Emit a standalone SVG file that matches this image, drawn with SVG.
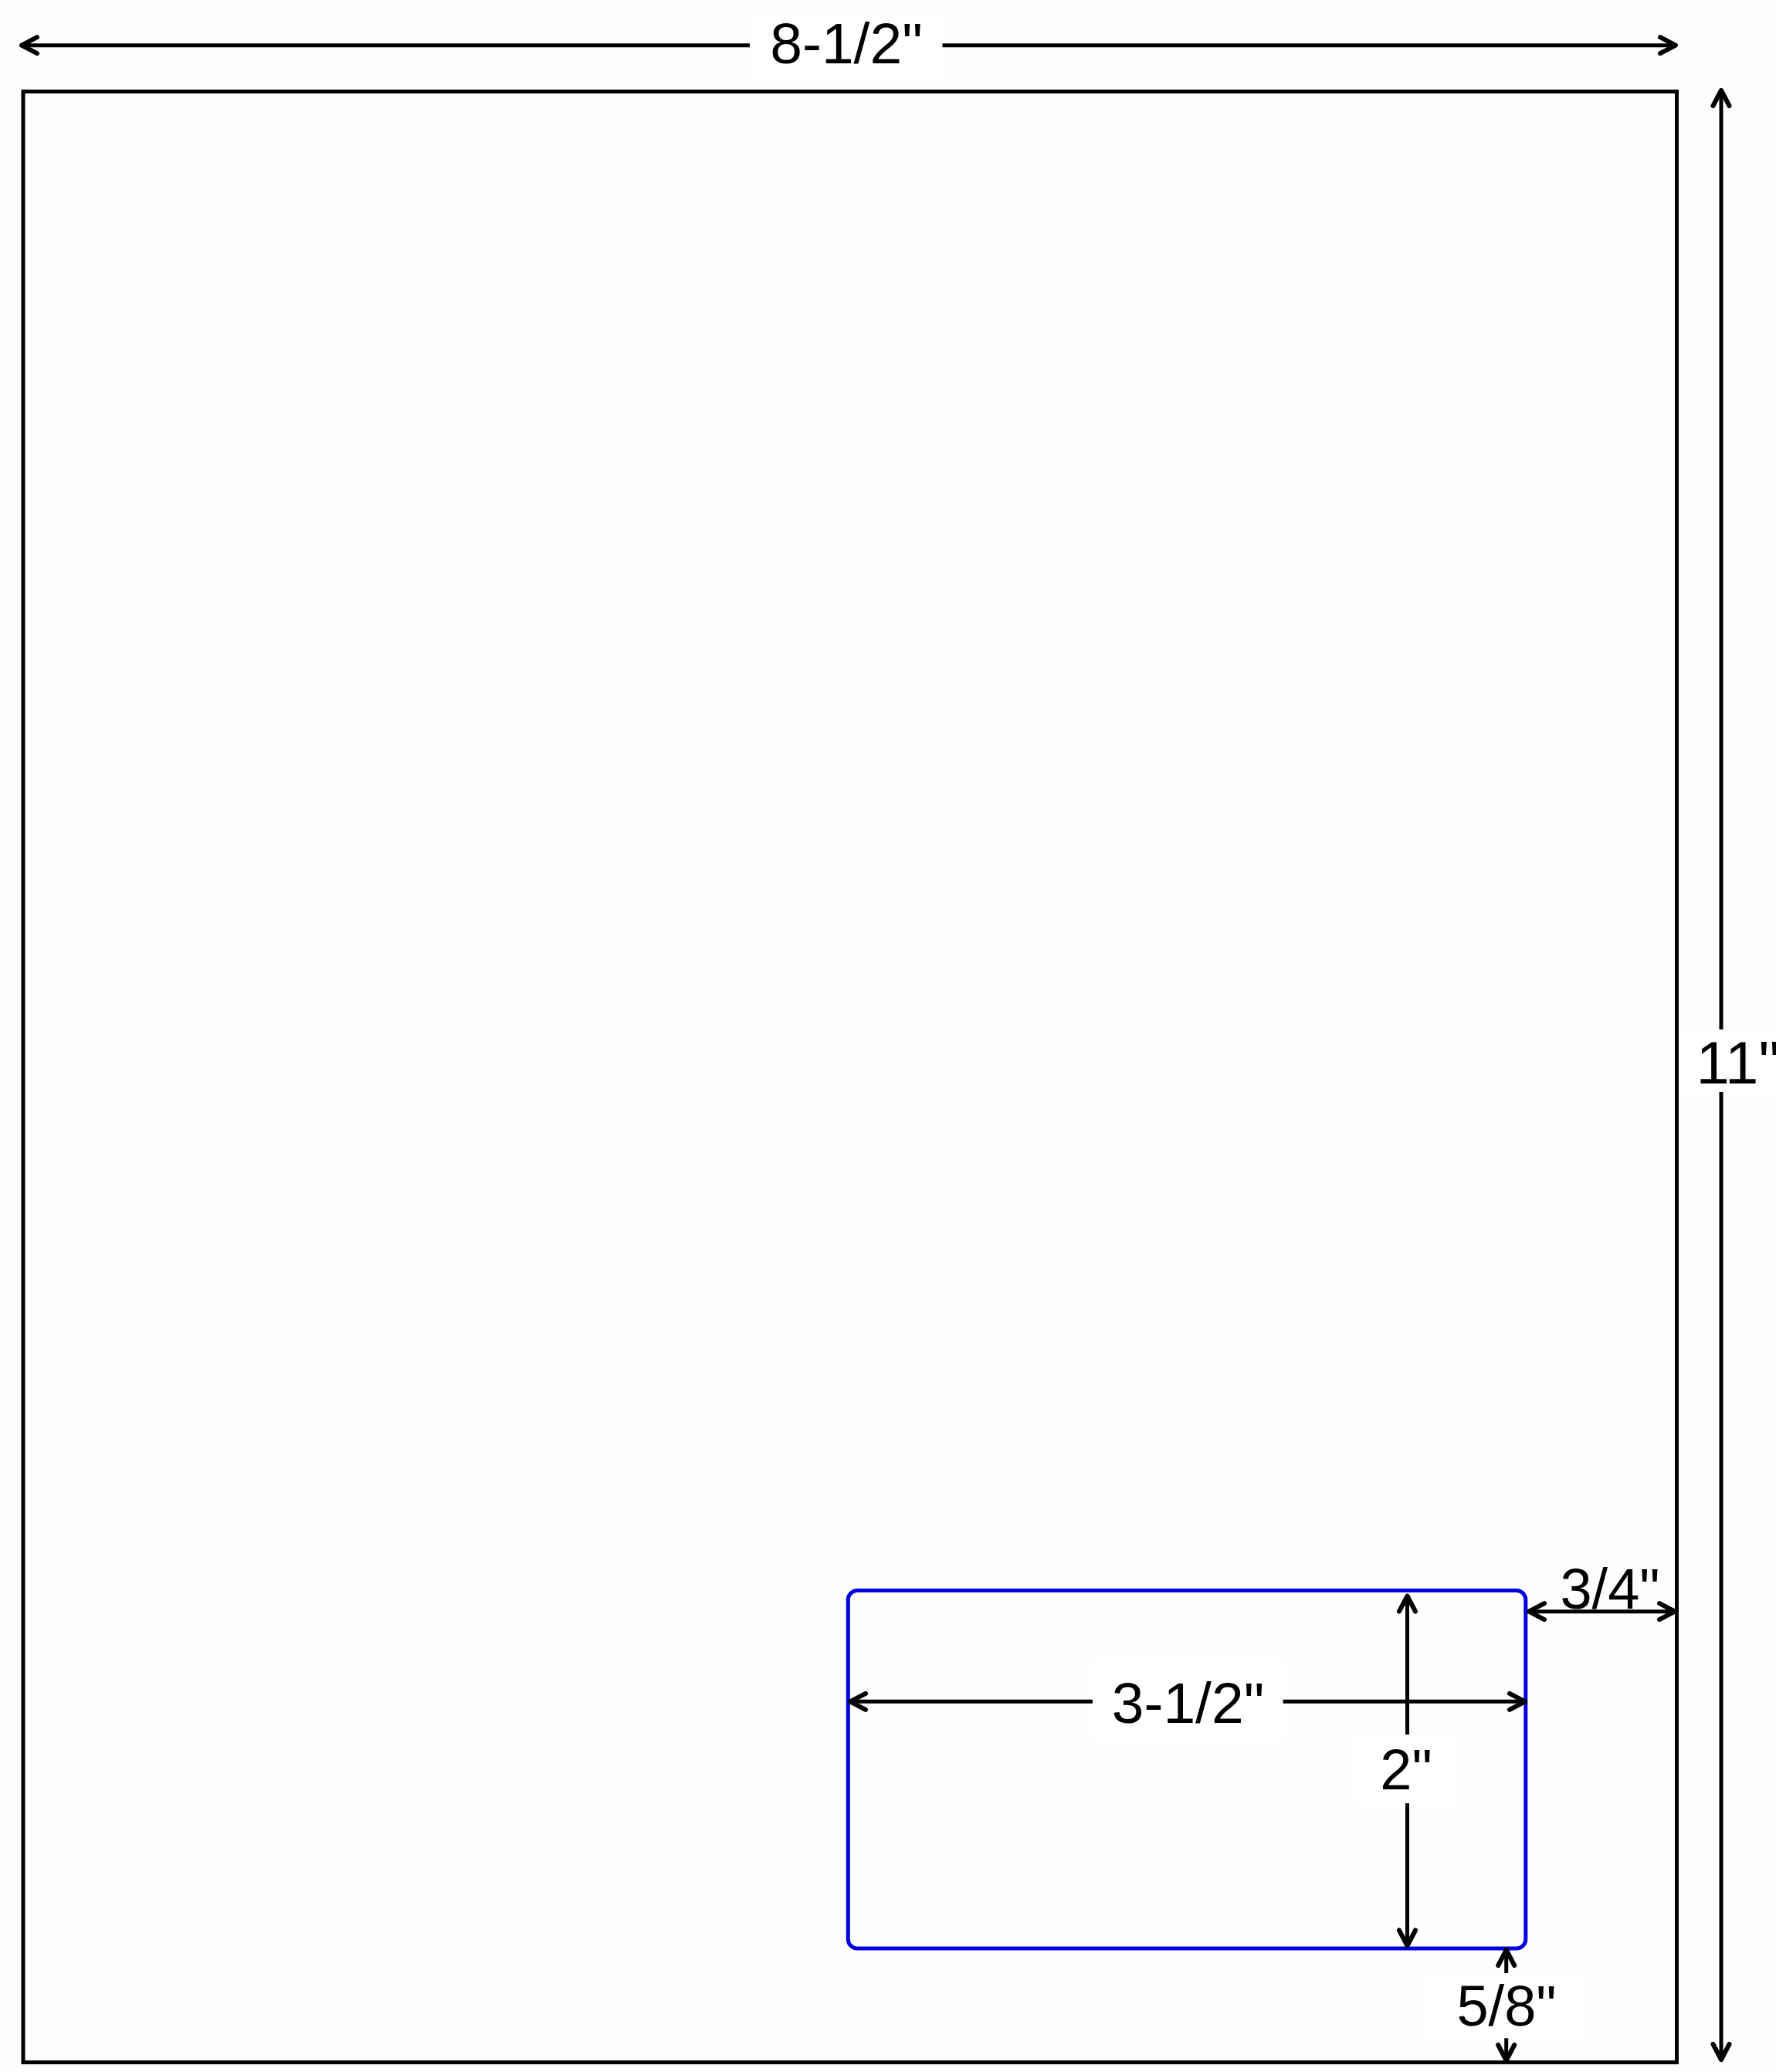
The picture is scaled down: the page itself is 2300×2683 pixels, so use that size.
<svg xmlns="http://www.w3.org/2000/svg" width="2300" height="2683" viewBox="0 0 2300 2683">
  <defs>
    <style>
      .bg { fill: #fefefc; }
      .box { fill: #ffffff; stroke: none; }
      .page { fill: #fefefc; stroke: #000000; stroke-width: 5; }
      .label { fill: none; stroke: #0000e0; stroke-width: 5; }
      .dim { fill: none; stroke: #000000; stroke-width: 5; }
      .txt { font-family: "Liberation Sans", Arial, sans-serif; fill: #000000; }
    </style>
    <marker id="ah" markerUnits="userSpaceOnUse" viewBox="-25 -15 30 30" refX="0" refY="0" markerWidth="30" markerHeight="30" orient="auto-start-reverse" overflow="visible">
      <path d="M-20,-10.5 L0,0 L-20,10.5" fill="none" stroke="#000000" stroke-width="6" stroke-linecap="round" stroke-linejoin="round"/>
    </marker>
  </defs>

  <rect class="bg" x="0" y="0" width="2300" height="2683"/>

  <g id="page">
    <rect class="page" x="30" y="118.5" width="2141.5" height="2552"/>
  </g>

  <g id="label-cutout">
    <rect class="label" x="1098.3" y="2059.5" width="877.5" height="463.5" rx="12" ry="12"/>
  </g>

  <g id="connectors">
    <!-- 8-1/2" width -->
    <line class="dim" x1="971" y1="58.7" x2="28" y2="58.7" marker-end="url(#ah)"/>
    <line class="dim" x1="1220.5" y1="58.7" x2="2170" y2="58.7" marker-end="url(#ah)"/>
    <!-- 11" height -->
    <line class="dim" x1="2229" y1="1333" x2="2229" y2="117" marker-end="url(#ah)"/>
    <line class="dim" x1="2229" y1="1414" x2="2229" y2="2667" marker-end="url(#ah)"/>
    <!-- 3/4" right margin -->
    <line class="dim" x1="1980" y1="2086.7" x2="2169" y2="2086.7" marker-start="url(#ah)" marker-end="url(#ah)"/>
    <!-- 3-1/2" label width -->
    <line class="dim" x1="1415" y1="2203.3" x2="1101" y2="2203.3" marker-end="url(#ah)"/>
    <line class="dim" x1="1661.6" y1="2203.3" x2="1975" y2="2203.3" marker-end="url(#ah)"/>
    <!-- 2" label height -->
    <line class="dim" x1="1822.5" y1="2246" x2="1822.5" y2="2066.7" marker-end="url(#ah)"/>
    <line class="dim" x1="1822.5" y1="2335" x2="1822.5" y2="2519.5" marker-end="url(#ah)"/>
    <!-- 5/8" bottom margin -->
    <line class="dim" x1="1950.7" y1="2555" x2="1950.7" y2="2525" marker-end="url(#ah)"/>
    <line class="dim" x1="1950.7" y1="2639.3" x2="1950.7" y2="2668" marker-end="url(#ah)"/>
  </g>

  <g id="dim-labels">
    <g id="lbl-width">
      <rect class="box" x="972" y="20" width="247" height="85"/>
      <text class="txt" x="1096" y="81.7" font-size="75" text-anchor="middle">8-1/2"</text>
    </g>
    <g id="lbl-height">
      <rect class="box" x="2177" y="1335" width="123" height="76"/>
      <text class="txt" x="2196.5" y="1402.7" font-size="78">11"</text>
    </g>
    <g id="lbl-right-margin">
      <text class="txt" x="2085" y="2083.3" font-size="74" text-anchor="middle">3/4"</text>
    </g>
    <g id="lbl-label-width">
      <rect class="box" x="1416" y="2152" width="244" height="98"/>
      <text class="txt" x="1538.5" y="2230.7" font-size="75" text-anchor="middle">3-1/2"</text>
    </g>
    <g id="lbl-label-height">
      <rect class="box" x="1756" y="2248" width="128" height="85"/>
      <text class="txt" x="1821" y="2316.7" font-size="74" text-anchor="middle">2"</text>
    </g>
    <g id="lbl-bottom-margin">
      <rect class="box" x="1849" y="2557" width="197" height="80"/>
      <text class="txt" x="1951" y="2623.3" font-size="74" text-anchor="middle">5/8"</text>
    </g>
  </g>
</svg>
